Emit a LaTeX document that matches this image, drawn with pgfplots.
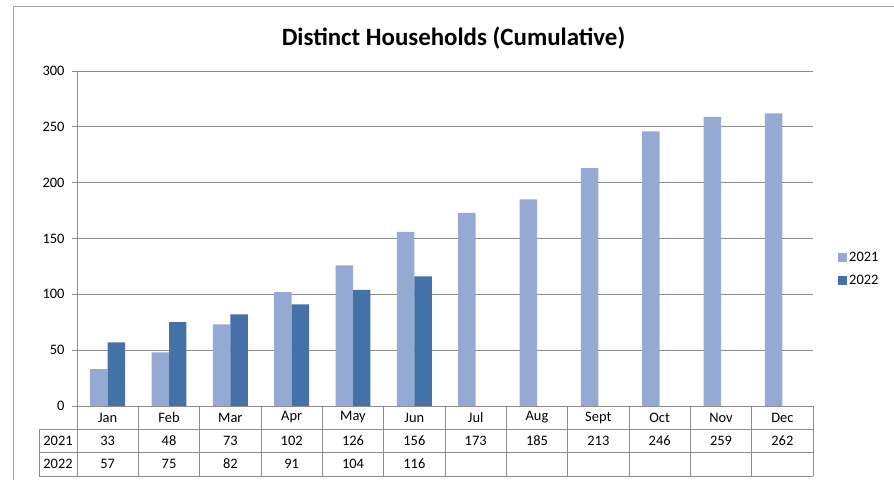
\documentclass[border=0pt]{standalone}
\usepackage{pgfplots}
\pgfplotsset{compat=1.18}
\usepackage{fontspec}
\setmainfont{Carlito}
\definecolor{c21}{RGB}{149,170,210}
\definecolor{c22}{RGB}{68,114,168}
\definecolor{gridc}{RGB}{140,140,140}
\newcommand{\tfont}{\fontsize{14.5}{16}\selectfont}
\begin{document}
\begin{tikzpicture}[x=1bp,y=1bp]
\useasboundingbox (0,0) rectangle (894,480);
\clip (0,0) rectangle (894,480);
\fill[white] (0,0) rectangle (894,480);
\draw[gridc!80, line width=0.8bp] (13,-5) -- (13,474) -- (900,474);
\node[font=\fontsize{25}{28}\selectfont\bfseries, anchor=base, inner sep=0pt] at (453.5,434) {Distinct Households (Cumulative)};
\begin{axis}[at={(77bp,74bp)}, anchor=south west, scale only axis,
  width=736bp, height=335bp,
  xmin=-0.5, xmax=11.5, ymin=0, ymax=300,
  ybar=0pt, bar width=0.285,
  xtick=\empty,
  ytick={0,50,...,300},
  ymajorgrids, grid style={gridc, line width=0.8bp},
  axis lines*=left,
  axis line style={gridc, line width=0.8bp},
  tick align=outside, major tick length=5bp,
  tick style={gridc, line width=0.8bp},
  /pgf/number format/assume math mode=true,
  yticklabel style={font=\tfont, xshift=-4bp},
  legend style={at={(1.034,0.409)}, anchor=west, draw=none, fill=none,
    font=\tfont, row sep=8bp, inner sep=0pt, cells={anchor=west}},
  legend cell align=left,
]
\addplot[fill=c21, draw=none, legend image code/.code={\fill[c21] (0bp,-4.5bp) rectangle (9bp,4.5bp);}]
  coordinates {(0,33) (1,48) (2,73) (3,102) (4,126) (5,156) (6,173) (7,185) (8,213) (9,246) (10,259) (11,262)};
\addlegendentry{2021}
\addplot[fill=c22, draw=none, legend image code/.code={\fill[c22] (0bp,-4.5bp) rectangle (9bp,4.5bp);}]
  coordinates {(0,57) (1,75) (2,82) (3,91) (4,104) (5,116)};
\addlegendentry{2022}
\end{axis}
% data table under the axis
\draw[gridc, line width=0.8bp] (39,51) -- (813,51);
\draw[gridc, line width=0.8bp] (39,28) -- (813,28);
\draw[gridc, line width=0.8bp] (39,4) -- (813,4);
\draw[gridc, line width=0.8bp] (39,51) -- (39,4);
\foreach \k in {0,...,12} {
  \draw[gridc, line width=0.8bp] ({77+61.3333*\k},74) -- ({77+61.3333*\k},4);
}
\node[font=\tfont] at (58,39.5) {2021};
\node[font=\tfont] at (58,16) {2022};
\foreach \m [count=\i from 0] in {Jan,Feb,Mar,Apr,May,Jun,Jul,Aug,Sept,Oct,Nov,Dec} {
  \node[font=\tfont] at ({77+61.3333*(\i+0.5)},62.5) {\m};
}
\foreach \v [count=\i from 0] in {33,48,73,102,126,156,173,185,213,246,259,262} {
  \node[font=\tfont] at ({77+61.3333*(\i+0.5)},39.5) {\v};
}
\foreach \v [count=\i from 0] in {57,75,82,91,104,116} {
  \node[font=\tfont] at ({77+61.3333*(\i+0.5)},16) {\v};
}
\end{tikzpicture}
\end{document}
